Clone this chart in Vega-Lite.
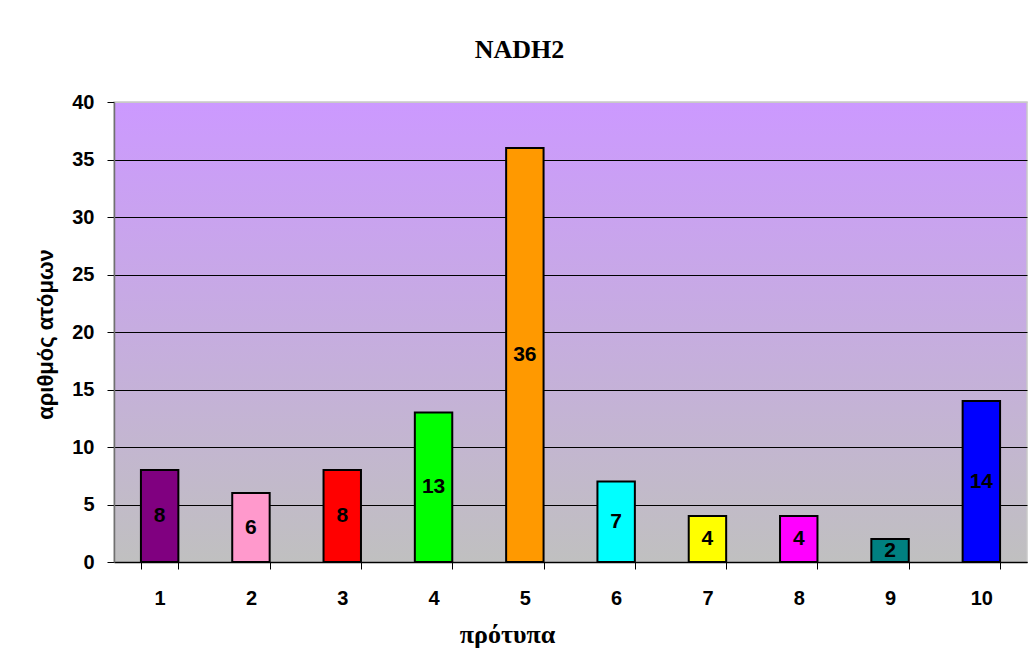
{
  "$schema": "https://vega.github.io/schema/vega-lite/v6.json",
  "autosize": "none",
  "width": 913,
  "height": 460,
  "padding": {"left": 114, "top": 102, "right": 8, "bottom": 107},
  "background": "white",
  "title": {
    "text": "NADH2",
    "font": "Liberation Serif",
    "fontSize": 26,
    "fontWeight": "bold",
    "color": "black",
    "anchor": "middle",
    "baseline": "alphabetic",
    "offset": 8,
    "dx": -51
  },
  "data": {
    "values": [
      {"pattern": "1", "count": 8},
      {"pattern": "2", "count": 6},
      {"pattern": "3", "count": 8},
      {"pattern": "4", "count": 13},
      {"pattern": "5", "count": 36},
      {"pattern": "6", "count": 7},
      {"pattern": "7", "count": 4},
      {"pattern": "8", "count": 4},
      {"pattern": "9", "count": 2},
      {"pattern": "10", "count": 14}
    ]
  },
  "encoding": {
    "x": {
      "field": "pattern",
      "type": "ordinal",
      "sort": null,
      "scale": {"paddingInner": 0.59, "paddingOuter": 0.295},
      "axis": {
        "title": "πρότυπα",
        "titleFont": "Liberation Serif",
        "titleFontSize": 26,
        "titleFontWeight": "bold",
        "titleColor": "black",
        "titleX": 393,
        "titleY": 80,
        "titleBaseline": "alphabetic",
        "titleAlign": "center",
        "labelAngle": 0,
        "labelFont": "Liberation Sans",
        "labelFontSize": 20,
        "labelFontWeight": "bold",
        "labelColor": "black",
        "labelPadding": 19,
        "tickBand": "extent",
        "tickSize": 7,
        "tickColor": "black",
        "tickWidth": 1,
        "domainColor": "black",
        "domainWidth": 1.5,
        "grid": false
      }
    }
  },
  "layer": [
    {
      "mark": {"type": "bar", "stroke": "black", "strokeWidth": 2},
      "encoding": {
        "y": {
          "field": "count",
          "type": "quantitative",
          "scale": {"domain": [0, 40], "nice": false},
          "axis": {
            "values": [0, 5, 10, 15, 20, 25, 30, 35, 40],
            "title": "αριθμός ατόμων",
            "titleFont": "Liberation Sans",
            "titleFontSize": 22,
            "titleFontWeight": "bold",
            "titleColor": "black",
            "titleX": -62,
            "titleY": 232,
            "titleBaseline": "alphabetic",
            "titleAlign": "center",
            "labelFont": "Liberation Sans",
            "labelFontSize": 20,
            "labelFontWeight": "bold",
            "labelColor": "black",
            "labelPadding": 13,
            "tickSize": 7,
            "tickColor": "black",
            "tickWidth": 1,
            "domainColor": "#707070",
            "domainWidth": 1.5,
            "grid": true,
            "gridColor": {
              "condition": {"test": "datum.value == 40", "value": "#C8C8C8"},
              "value": "black"
            },
            "gridWidth": 1
          }
        },
        "color": {
          "field": "pattern",
          "type": "ordinal",
          "sort": null,
          "scale": {
            "domain": ["1", "2", "3", "4", "5", "6", "7", "8", "9", "10"],
            "range": ["#800080", "#FF99CC", "#FF0000", "#00FF00", "#FF9900", "#00FFFF", "#FFFF00", "#FF00FF", "#008080", "#0000FF"]
          },
          "legend": null
        }
      }
    },
    {
      "mark": {
        "type": "text",
        "font": "Liberation Sans",
        "fontSize": 21,
        "fontWeight": "bold",
        "color": "black",
        "baseline": "middle",
        "align": "center"
      },
      "encoding": {
        "y": {
          "field": "count",
          "type": "quantitative",
          "scale": {"domain": [0, 80], "nice": false},
          "axis": null
        },
        "text": {"field": "count", "type": "quantitative"}
      }
    }
  ],
  "resolve": {"scale": {"y": "independent"}},
  "view": {
    "fill": {
      "gradient": "linear",
      "x1": 0, "y1": 0, "x2": 0, "y2": 1,
      "stops": [
        {"offset": 0, "color": "#CC99FF"},
        {"offset": 1, "color": "#C0C0C0"}
      ]
    },
    "stroke": "#C8C8C8",
    "strokeWidth": 1.5
  }
}
